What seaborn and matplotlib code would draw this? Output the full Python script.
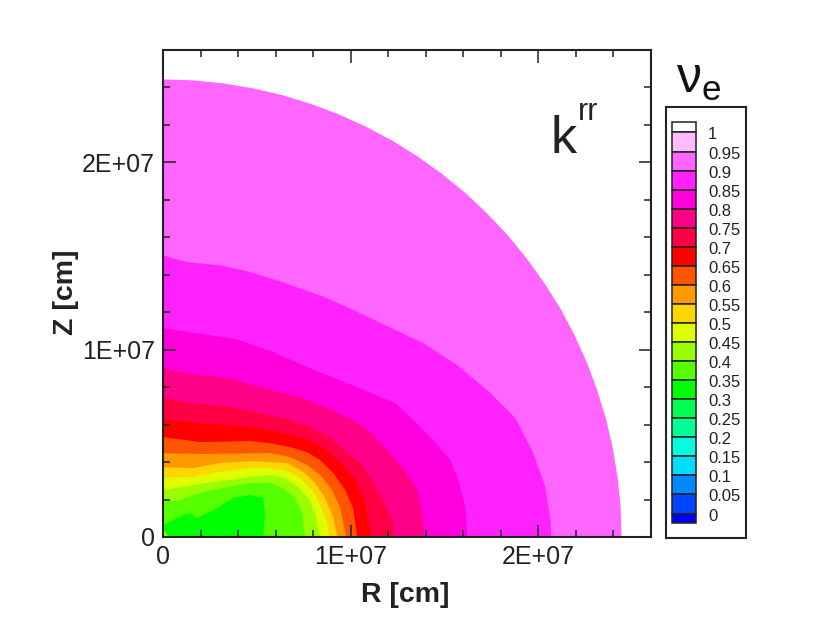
import matplotlib
matplotlib.use("Agg")
import matplotlib.pyplot as plt
import numpy as np
import seaborn as sns

# contour boundaries, R and Z in units of 1E+07 cm
# each one is the outer edge of a band, named by the lower level of the band
R_90 = [0, .16, .319, .477, .632, .785, .935, 1.081, 1.222, 1.357, 1.487, 1.611, 1.727,
        1.837, 1.938, 2.031, 2.116, 2.191, 2.257, 2.313, 2.36, 2.396, 2.422, 2.438, 2.443]
Z_90 = [2.443, 2.438, 2.422, 2.396, 2.36, 2.313, 2.257, 2.191, 2.116, 2.031, 1.938, 1.837, 1.727,
        1.611, 1.487, 1.357, 1.222, 1.081, .935, .785, .632, .477, .319, .16, 0]
R_85 = [0, .128, .304, .448, .64, .875, 1.051, 1.264, 1.387, 1.568, 1.728, 1.877, 1.973, 2.037, 2.064, 2.069]
Z_85 = [1.504, 1.467, 1.451, 1.419, 1.36, 1.275, 1.195, 1.093, 1.035, .917, .784, .635, .448, .267, .091, 0]
R_80 = [0, .213, .395, .587, .784, .981, 1.237, 1.317, 1.44, 1.531, 1.573, 1.611, 1.621]
Z_80 = [1.115, 1.083, 1.056, .987, .901, .821, .715, .64, .517, .411, .304, .16, 0]
R_75 = [0, .16, .373, .571, .731, .901, 1.013, 1.104, 1.184, 1.275, 1.355, 1.381, 1.392]
Z_75 = [.901, .869, .843, .784, .747, .677, .624, .56, .475, .373, .251, .107, 0]
R_70 = [0, .107, .373, .571, .677, .784, .891, .981, 1.061, 1.12, 1.173, 1.221, 1.232]
Z_70 = [.747, .72, .693, .651, .624, .587, .528, .453, .384, .293, .197, .091, 0]
R_65 = [0, .197, .464, .571, .677, .784, .875, .96, 1.024, 1.067, 1.093, 1.109]
Z_65 = [.629, .608, .587, .571, .549, .517, .464, .384, .304, .213, .107, 0]
R_60 = [0, .197, .464, .571, .677, .768, .837, .907, .971, 1.013, 1.035]
Z_60 = [.533, .507, .512, .501, .48, .453, .411, .341, .251, .155, 0]
R_55 = [0, .197, .571, .677, .768, .837, .901, .944, .976]
Z_55 = [.448, .443, .448, .427, .384, .331, .251, .155, 0]
R_50 = [0, .16, .304, .464, .571, .661, .747, .811, .864, .907, .928]
Z_50 = [.373, .368, .395, .405, .4, .395, .347, .288, .208, .107, 0]
R_45 = [0, .16, .304, .464, .571, .661, .731, .795, .837, .875, .885]
Z_45 = [.315, .32, .347, .368, .368, .352, .315, .251, .171, .075, 0]
R_40 = [0, .16, .341, .464, .571, .651, .72, .773, .811, .837]
Z_40 = [.251, .277, .304, .32, .331, .315, .267, .208, .128, 0]
R_35 = [0, .091, .197, .341, .464, .571, .64, .704, .741, .757]
Z_35 = [.187, .197, .235, .267, .288, .288, .261, .208, .128, 0]
R_30 = [0, .107, .144, .181, .288, .373, .464, .533, .544, .533]
Z_30 = [.064, .117, .128, .101, .155, .208, .224, .208, .128, 0]
R_40_CORNER = [0, .03]
Z_40_CORNER = [.04, 0]

BAND_R = [R_90, R_85, R_80, R_75, R_70, R_65, R_60, R_55, R_50, R_45, R_40, R_35, R_30, R_40_CORNER]
BAND_Z = [Z_90, Z_85, Z_80, Z_75, Z_70, Z_65, Z_60, Z_55, Z_50, Z_45, Z_40, Z_35, Z_30, Z_40_CORNER]
BAND_COLORS = ["#ff66ff", "#ff22ff", "#ff00dd", "#ff0088", "#ff0044", "#ff0000", "#ff5500",
               "#ff9900", "#ffd500", "#ddff00", "#99ff00", "#55ff00", "#00ff00", "#99ff00"]

# legend, top to bottom
LEGEND_COLORS = ["#ffffff", "#ffbbff", "#ff66ff", "#ff22ff", "#ff00dd", "#ff0088", "#ff0044",
                 "#ff0000", "#ff5500", "#ff9900", "#ffd500", "#ddff00", "#99ff00", "#55ff00",
                 "#00ff00", "#00ff55", "#00ff99", "#00ffdd", "#00ddff", "#0088ff", "#0044ff", "#0000ff"]
LEGEND_EDGES = [1.0276, 1, .95, .9, .85, .8, .75, .7, .65, .6, .55, .5, .45, .4, .35, .3, .25, .2, .15, .1, .05, 0, -.025]
LEGEND_LABELS = ["1", "0.95", "0.9", "0.85", "0.8", "0.75", "0.7", "0.65", "0.6", "0.55", "0.5",
                 "0.45", "0.4", "0.35", "0.3", "0.25", "0.2", "0.15", "0.1", "0.05", "0"]
LEGEND_VALUES = [1, .95, .9, .85, .8, .75, .7, .65, .6, .55, .5, .45, .4, .35, .3, .25, .2, .15, .1, .05, 0]

UNIT = 1e7
AXIS_MAX = 2.6e7
MAJOR_TICKS = [0, 1e7, 2e7]
MAJOR_LABELS = ["0", "1E+07", "2E+07"]

sns.set_style("ticks")
plt.rcParams["font.family"] = ["Liberation Sans", "DejaVu Sans"]
plt.rcParams["mathtext.fontset"] = "custom"
plt.rcParams["mathtext.rm"] = "Liberation Sans"
INK = "#222222"

W, H = 830, 630
fig = plt.figure(figsize=(W / 100, H / 100), dpi=100)
ax = fig.add_axes([163 / W, (H - 537) / H, 488 / W, 487 / H])

for rs, zs, color in zip(BAND_R, BAND_Z, BAND_COLORS):
    ax.fill(np.array(rs + [0]) * UNIT, np.array(zs + [0]) * UNIT, color=color, lw=0)

ax.set_xlim(0, AXIS_MAX)
ax.set_ylim(0, AXIS_MAX)
minor = np.arange(0, AXIS_MAX + 1, 2e6)
for axis in (ax.xaxis, ax.yaxis):
    axis.set_ticks(MAJOR_TICKS)
    axis.set_ticklabels(MAJOR_LABELS)
    axis.set_ticks(minor, minor=True)
ax.set_axisbelow(False)
ax.tick_params(which="both", direction="in", top=True, right=True, color=INK, width=1.1)
ax.tick_params(which="major", length=9, labelsize=18, labelcolor=INK)
ax.tick_params(which="minor", length=4.8)
ax.tick_params(axis="x", which="major", pad=6)
ax.tick_params(axis="y", which="major", pad=6)
sns.despine(ax=ax, top=False, right=False)
for spine in ax.spines.values():
    spine.set_linewidth(1.5)
    spine.set_color(INK)

ax.set_xlabel("R [cm]", fontsize=20.5, fontweight="bold", color=INK, x=0.497, labelpad=9)
ax.set_ylabel("Z [cm]", fontsize=20.5, fontweight="bold", color=INK, y=0.502, labelpad=2)

ax.text(0.794, 0.7885, "k", transform=ax.transAxes, fontsize=37.5, color=INK, ha="left", va="baseline")
ax.text(0.851, 0.856, "rr", transform=ax.transAxes, fontsize=22, color=INK, ha="left", va="baseline")

# legend box, y axis runs in contour level
cax = fig.add_axes([666 / W, (H - 538) / H, 80 / W, 431 / H])
cax.set_xlim(0, 1)
cax.set_ylim(-.0643, 1.0669)
edges = np.array(LEGEND_EDGES)
cax.bar(0.225, edges[:-1] - edges[1:], bottom=edges[1:], width=0.3, color=LEGEND_COLORS,
        edgecolor=INK, linewidth=1.1)
for value, label in zip(LEGEND_VALUES, LEGEND_LABELS):
    cax.annotate(label, (0.525, value), xytext=(0, -1.8), textcoords="offset points",
                 fontsize=12, color=INK, ha="left", va="center")
cax.set_xticks([])
cax.set_yticks([])
sns.despine(ax=cax, top=False, right=False)
for spine in cax.spines.values():
    spine.set_linewidth(1.5)
    spine.set_color(INK)

fig.text(676 / W, 1 - 93 / H, r"$\mathrm{\nu_e}$", fontsize=36, color="#111111", ha="left", va="baseline")

fig.savefig("out.png", dpi=100)
